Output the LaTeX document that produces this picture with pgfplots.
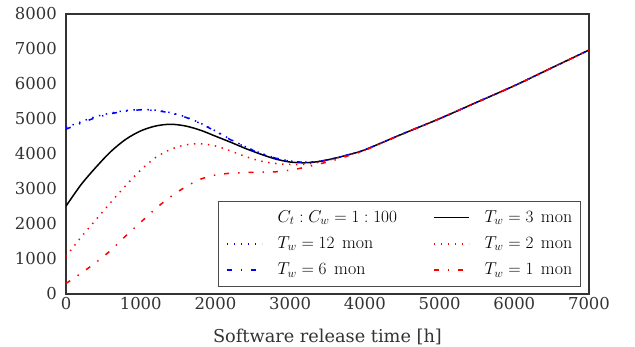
\documentclass[border=0pt]{standalone}
\usepackage{fontspec}
\usepackage{pgfplots}
\pgfplotsset{compat=1.18}
\newfontfamily\dejavu{DejaVu Serif}
\tikzset{
  s3/.style={black, line width=1.5bp, solid},
  s12/.style={blue, line width=1.5bp, dash pattern=on 1.4bp off 5.6bp},
  s6/.style={blue, line width=1.5bp, dash pattern=on 5bp off 9bp on 1.4bp off 9bp},
  s2/.style={red, line width=1.5bp, dash pattern=on 1.4bp off 5.6bp},
  s1/.style={red, line width=1.5bp, dash pattern=on 5bp off 9bp on 1.4bp off 9bp},
}
\pgfplotstableread{
x y
0 2510
200 3120
400 3620
600 4070
800 4420
1000 4660
1200 4800
1400 4850
1600 4800
1800 4680
2000 4510
2200 4340
2400 4160
2600 4000
2800 3860
3000 3770
3200 3750
3400 3790
3600 3880
3800 3990
4000 4120
4500 4570
5000 5010
5500 5480
6000 5950
6500 6460
7000 6970
}\tthree
\pgfplotstableread{
x y
0 4760
200 4920
400 5070
600 5170
800 5240
1000 5270
1200 5250
1400 5180
1600 5060
1800 4880
2000 4660
2200 4420
2400 4210
2600 4030
2800 3890
3000 3800
3200 3765
3400 3795
3600 3880
3800 3990
4000 4120
4500 4570
5000 5010
5500 5480
6000 5950
6500 6460
7000 6970
}\ttwelve
\pgfplotstableread{
x y
0 4710
200 4880
400 5040
600 5150
800 5225
1000 5260
1200 5240
1400 5170
1600 5050
1800 4870
2000 4650
2200 4410
2400 4200
2600 4020
2800 3885
3000 3795
3200 3762
3400 3795
3600 3880
3800 3990
4000 4120
4500 4570
5000 5010
5500 5480
6000 5950
6500 6460
7000 6970
}\tsix
\pgfplotstableread{
x y
0 1070
200 1620
400 2120
600 2620
800 3100
1000 3540
1200 3900
1400 4130
1600 4260
1800 4290
2000 4230
2200 4090
2400 3930
2600 3800
2800 3730
3000 3700
3200 3705
3400 3770
3600 3870
3800 3985
4000 4115
4500 4570
5000 5010
5500 5480
6000 5950
6500 6460
7000 6970
}\ttwo
\pgfplotstableread{
x y
0 300
200 590
400 900
600 1250
800 1660
1000 2050
1200 2440
1400 2780
1600 3060
1800 3280
2000 3400
2200 3450
2400 3470
2600 3480
2800 3490
3000 3540
3200 3620
3400 3720
3600 3830
3800 3965
4000 4105
4500 4570
5000 5010
5500 5480
6000 5950
6500 6460
7000 6970
}\tone
\newcommand{\tw}[1]{$T_w=#1$\hspace{0.42em}mon}
\begin{document}
\begin{tikzpicture}
\useasboundingbox (-66bp,-53bp) rectangle (569bp,294bp);
\begin{axis}[
  at={(0,0)}, anchor=south west,
  scale only axis, width=523bp, height=280bp,
  xmin=0, xmax=7000, ymin=0, ymax=8000,
  xtick={0,1000,...,7000}, ytick={0,1000,...,8000},
  major tick length=0pt, tick style={draw=none},
  scaled ticks=false,
  /pgf/number format/1000 sep={},
  /pgf/number format/assume math mode=true,
  axis line style={line width=2bp, black!80},
  ticklabel style={font=\dejavu\fontsize{16.5}{19}\selectfont, text=black!80},
  yticklabel style={inner sep=0pt, xshift=-9bp},
  xticklabel style={inner sep=0pt, yshift=-3bp},
  xlabel={Software release time [h]},
  xlabel style={font=\dejavu\fontsize{17.8}{20}\selectfont, text=black!80, inner sep=0pt, at={(axis description cs:0.5,0)}, anchor=north, yshift=-35bp},
  legend columns=2,
  legend cell align=left,
  legend image code/.code={\draw[#1] (0bp,0bp) -- (35bp,0bp);},
  legend style={at={(0.984,0.026)}, anchor=south east, draw=black!70, line width=0.8bp, fill=white,
    font=\fontsize{18}{21}\selectfont,
    inner xsep=8bp, inner ysep=7.2bp, row sep=8.3bp,
    nodes={inner sep=0pt, text height=13.5bp, text depth=4.5bp},
    /tikz/every odd column/.append style={column sep=15bp},
    /tikz/every even column/.append style={column sep=36bp}},
]
\addplot[s3, smooth, forget plot] table {\tthree};
\addplot[s12, smooth, forget plot] table {\ttwelve};
\addplot[s6, smooth, forget plot] table {\tsix};
\addplot[s2, smooth, forget plot] table {\ttwo};
\addplot[s1, smooth, forget plot] table {\tone};
\addlegendimage{legend image code/.code={}}
\addlegendentry{$C_t:C_w=1:100$}
\addlegendimage{s3}
\addlegendentry{\tw{3}}
\addlegendimage{s12}
\addlegendentry{\tw{12}}
\addlegendimage{s2}
\addlegendentry{\tw{2}}
\addlegendimage{s6}
\addlegendentry{\tw{6}}
\addlegendimage{s1}
\addlegendentry{\tw{1}}
\end{axis}
\end{tikzpicture}
\end{document}
